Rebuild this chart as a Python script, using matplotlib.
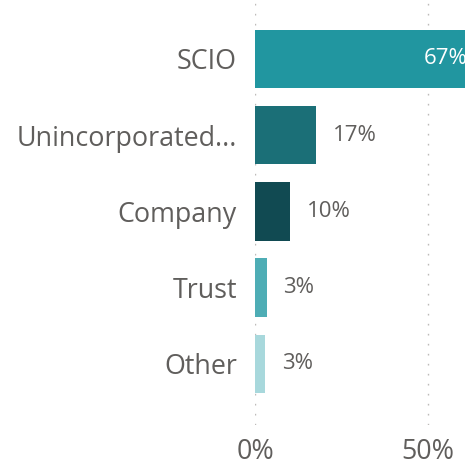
import matplotlib
matplotlib.use("Agg")
import matplotlib.pyplot as plt

categories = ["SCIO", "Unincorporated...", "Company", "Trust", "Other"]
values = [67, 17.6, 10.1, 3.4, 2.9]
labels = ["67%", "17%", "10%", "3%", "3%"]
colors = ["#2196A0", "#1B6F77", "#114A52", "#4EADB5", "#A8D8DC"]
xticks = [0, 50]
xticklabels = ["0%", "50%"]

plt.rcParams['font.family'] = ['Open Sans', 'DejaVu Sans']
text_color = "#605E5C"

fig = plt.figure(figsize=(4.65, 4.65), dpi=100)
ax = fig.add_axes([255/465, 1 - 425/465, 1 - 255/465, 425/465])

y = list(range(len(categories)))
ax.barh(y, values, height=0.765, color=colors, zorder=2)

ax.set_xlim(0, 60.6)
ax.set_ylim(4.8, -0.77)

ax.set_yticks(y)
ax.set_yticklabels(categories, fontsize=19.4, color=text_color)
ax.set_xticks(xticks)
ax.set_xticklabels(xticklabels, fontsize=19.4, color=text_color)
ax.tick_params(axis='both', length=0)
ax.tick_params(axis='y', pad=13)
ax.tick_params(axis='x', pad=9)

for s in ax.spines.values():
    s.set_visible(False)

ax.grid(axis='x', color="#BDBBB9", linewidth=1.0, linestyle=(0, (1.2, 6.0)), zorder=0)
ax.set_axisbelow(True)

for i, (v, lab) in enumerate(zip(values, labels)):
    if v > 50:
        ax.annotate(lab, xy=(v, i), xytext=(-14, 0), textcoords='offset points',
                    ha='right', va='center', fontsize=16, color='white',
                    annotation_clip=False, zorder=3)
    else:
        ax.annotate(lab, xy=(v, i), xytext=(12, 0), textcoords='offset points',
                    ha='left', va='center', fontsize=16, color=text_color, zorder=3)

fig.savefig("out.png", dpi=100)
